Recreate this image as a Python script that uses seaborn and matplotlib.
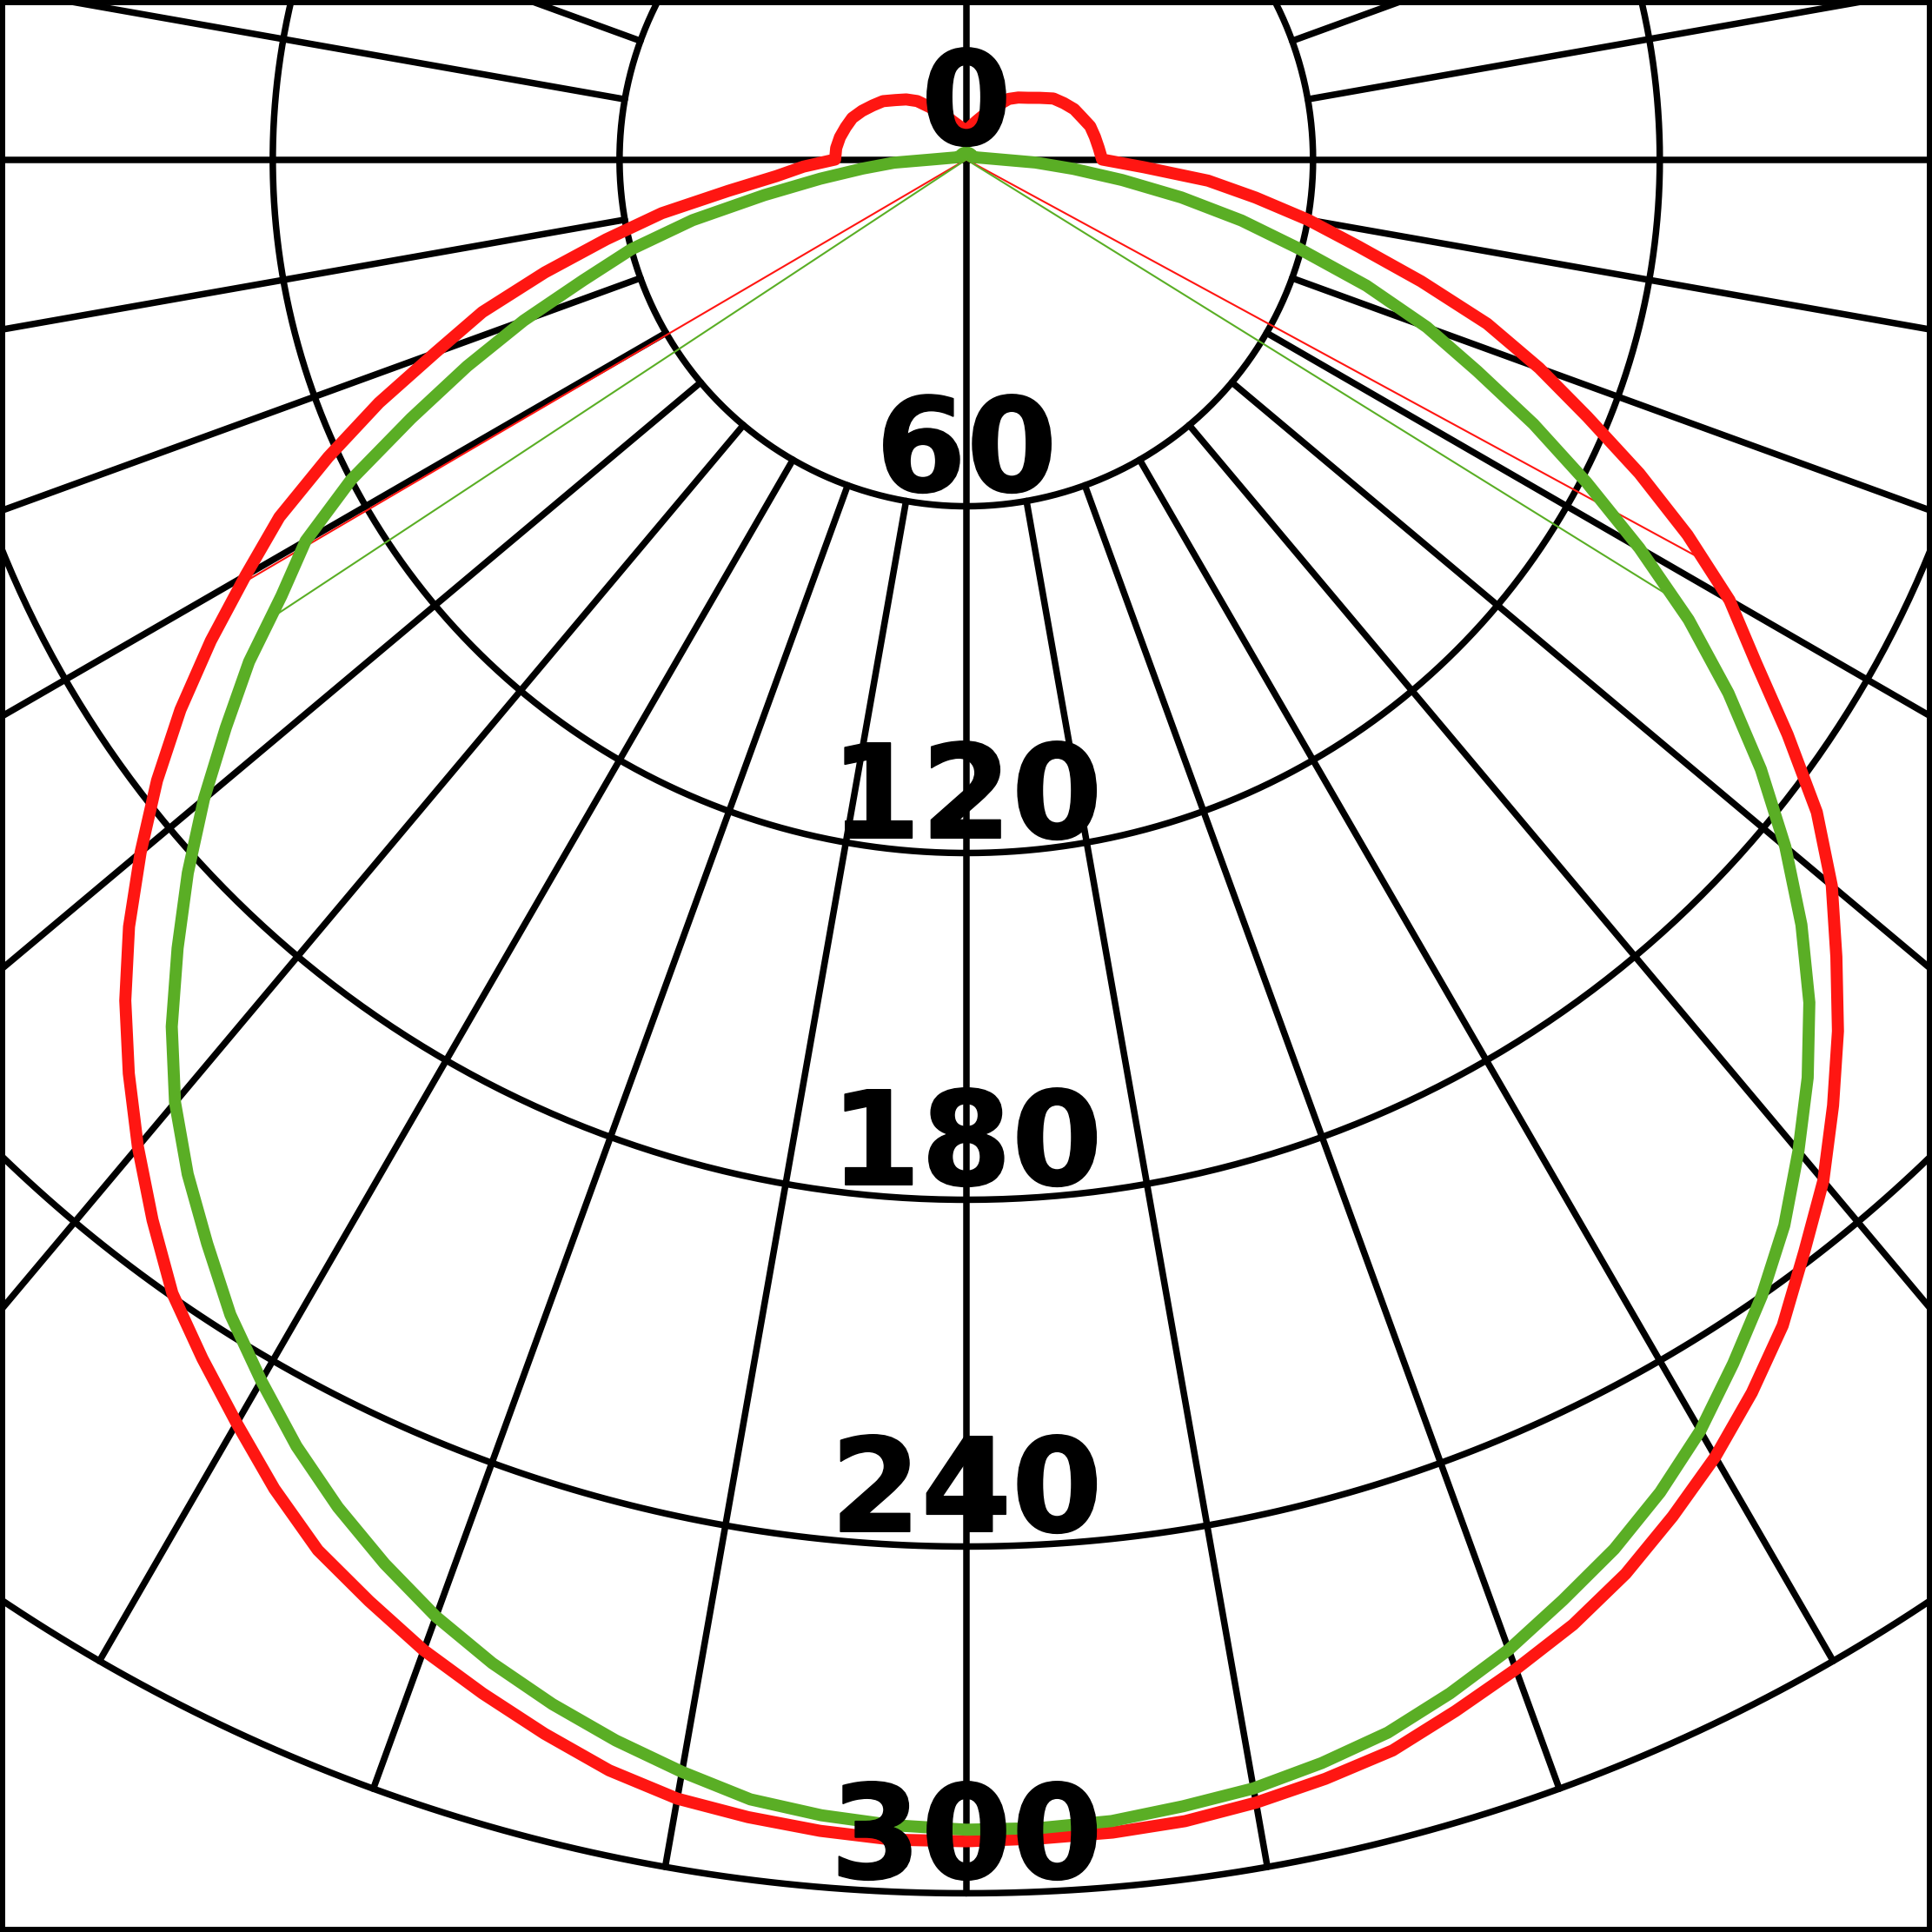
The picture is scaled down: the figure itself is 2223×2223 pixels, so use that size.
import numpy as np
import pandas as pd
import matplotlib
matplotlib.use("Agg")
import matplotlib.pyplot as plt
import matplotlib.patheffects as pe
import seaborn as sns

# luminous intensity distribution (cd/klm), gamma = angle from nadir
gamma_down = np.arange(0, 90.1, 2.5)
gamma_up = np.arange(95, 180.1, 5)

# C0 / C180 plane (red)
c0_down = [291.0, 290.8, 290.6, 290.0, 288.7, 287.0, 285.0, 281.5, 278.0, 274.4,
           270.0, 264.7, 259.2, 253.0, 246.3, 238.2, 230.7, 222.0, 213.3, 204.2,
           195.5, 185.5, 173.5, 162.0, 152.5, 140.7, 128.5, 116.3, 105.5, 94.5,
           81.5, 69.5, 60.0, 50.5, 42.0, 30.8, 23.5]
c180_down = [291.0, 291.0, 290.3, 289.3, 288.0, 285.5, 282.0, 278.3, 274.5, 270.0,
             265.5, 259.3, 252.5, 246.0, 239.5, 231.3, 223.0, 214.5, 205.8, 196.5,
             186.5, 176.5, 166.0, 155.0, 144.0, 134.0, 121.8, 110.0, 97.8, 87.8,
             75.5, 63.8, 53.5, 41.5, 33.0, 28.2, 22.7]
c0_up = [23.0, 22.6, 22.2, 21.3, 20.6, 19.5, 18.4, 16.6, 15.1, 14.0,
         12.8, 10.8, 9.2, 7.9, 6.9, 6.1, 5.4, 5.0]
c180_up = [22.6, 22.2, 21.6, 21.0, 19.9, 18.7, 17.6, 16.0, 14.7, 13.2,
           11.1, 9.6, 8.3, 7.1, 6.3, 5.7, 5.3, 5.0]

# C90 / C270 plane (green)
c90_down = [289.0, 289.0, 288.6, 287.4, 286.2, 284.2, 281.8, 278.3, 274.4, 269.8,
            265.3, 260.0, 254.0, 247.0, 240.0, 232.5, 224.0, 215.5, 206.3, 196.0,
            185.0, 173.3, 161.0, 148.2, 134.5, 121.0, 108.3, 95.7, 84.8, 72.6,
            59.6, 48.8, 37.8, 27.2, 18.6, 12.0, 6.0]
c270_down = [289.0, 288.5, 287.6, 286.2, 283.3, 280.2, 276.7, 272.8, 268.3, 263.0,
             257.3, 251.0, 244.0, 237.0, 229.0, 221.3, 213.0, 203.5, 193.0, 182.7,
             172.2, 161.5, 151.5, 140.5, 132.0, 120.0, 106.0, 93.5, 81.5, 69.5,
             60.0, 48.5, 35.5, 25.5, 18.0, 12.5, 6.0]
c90_up = [3.0, 2.0, 1.6, 1.4, 1.3, 1.2, 1.2, 1.2, 1.2, 1.2,
          1.2, 1.2, 1.2, 1.2, 1.2, 1.2, 1.2, 1.2]
c270_up = [3.0, 2.0, 1.6, 1.4, 1.3, 1.2, 1.2, 1.2, 1.2, 1.2,
           1.2, 1.2, 1.2, 1.2, 1.2, 1.2, 1.2, 1.2]

rings = [60, 120, 180, 240, 300]
ring_labels = ["0", "60", "120", "180", "240", "300"]

RED = "#ff1612"
GREEN = "#5aae25"
GRID_LW = 5.4
CURVE_LW = 10.0

sns.set_style("white")
plt.rcParams["font.family"] = ["DejaVu Sans"]

gamma_all = np.concatenate([gamma_down, gamma_up])


def plane_xy(left, right):
    gl = np.radians(gamma_all)
    rl = np.asarray(left, float)
    rr = np.asarray(right, float)
    xl, yl = -rl * np.sin(gl), -rl * np.cos(gl)
    xr, yr = rr * np.sin(gl), -rr * np.cos(gl)
    xs = np.concatenate([xl[::-1], xr[1:]])
    ys = np.concatenate([yl[::-1], yr[1:]])
    return pd.DataFrame({"x": xs, "y": ys})


def half_angle(vals, peak):
    v = np.asarray(vals, float)
    m = (gamma_down >= 30) & (gamma_down <= 85)
    return np.interp(0.5 * peak, v[m][::-1], gamma_down[m][::-1])


fig = plt.figure(figsize=(22.23, 22.23), dpi=100)
ax = fig.add_axes([0, 0, 1, 1])

# grid: rings and radial lines
t = np.linspace(0, 2 * np.pi, 721)
for r in rings:
    ax.plot(r * np.sin(t), -r * np.cos(t), color="black", linewidth=GRID_LW, zorder=1)
for a in range(0, 360, 10):
    r0 = 0 if a % 90 == 0 else 60
    ar = np.radians(a)
    ax.plot([r0 * np.sin(ar), 300 * np.sin(ar)], [-r0 * np.cos(ar), -300 * np.cos(ar)],
            color="black", linewidth=GRID_LW, solid_capstyle="round", zorder=1)

red_df = plane_xy(c180_down + c180_up, c0_down + c0_up)
green_df = plane_xy(c270_down + c270_up, c90_down + c90_up)

# half-value (beam) lines
red_peak = max(c0_down + c180_down)
green_peak = max(c90_down + c270_down)
for vals, peak, side, col in [(c180_down, red_peak, -1, RED), (c0_down, red_peak, 1, RED),
                              (c270_down, green_peak, -1, GREEN), (c90_down, green_peak, 1, GREEN)]:
    g = half_angle(vals, peak)
    rv = np.interp(g, gamma_down, vals)
    ax.plot([0, side * rv * np.sin(np.radians(g))], [0, -rv * np.cos(np.radians(g))],
            color=col, linewidth=1.5, zorder=2)

sns.lineplot(data=red_df, x="x", y="y", sort=False, estimator=None, color=RED,
             linewidth=CURVE_LW, ax=ax, zorder=3)
ax.lines[-1].set_linewidth(CURVE_LW)
sns.lineplot(data=green_df, x="x", y="y", sort=False, estimator=None, color=GREEN,
             linewidth=CURVE_LW, ax=ax, zorder=4)
ax.lines[-1].set_linewidth(CURVE_LW)

for r, lab in zip([0] + rings, ring_labels):
    ax.text(0, -r + 2.6, lab, ha="center", va="baseline", fontsize=108,
            fontweight="bold", color="black", zorder=10,
            path_effects=[pe.withStroke(linewidth=1.2, foreground="black",
                                        joinstyle="round", capstyle="round")])

ax.set_xlim(-167.2, 167.1)
ax.set_ylim(-306.7, 27.6)
ax.set_aspect("equal")
ax.set_xticks([])
ax.set_yticks([])
ax.set_xlabel("")
ax.set_ylabel("")
for s in ax.spines.values():
    s.set_visible(True)
    s.set_color("black")
    s.set_linewidth(8.6)

fig.savefig("out.png", dpi=100)
